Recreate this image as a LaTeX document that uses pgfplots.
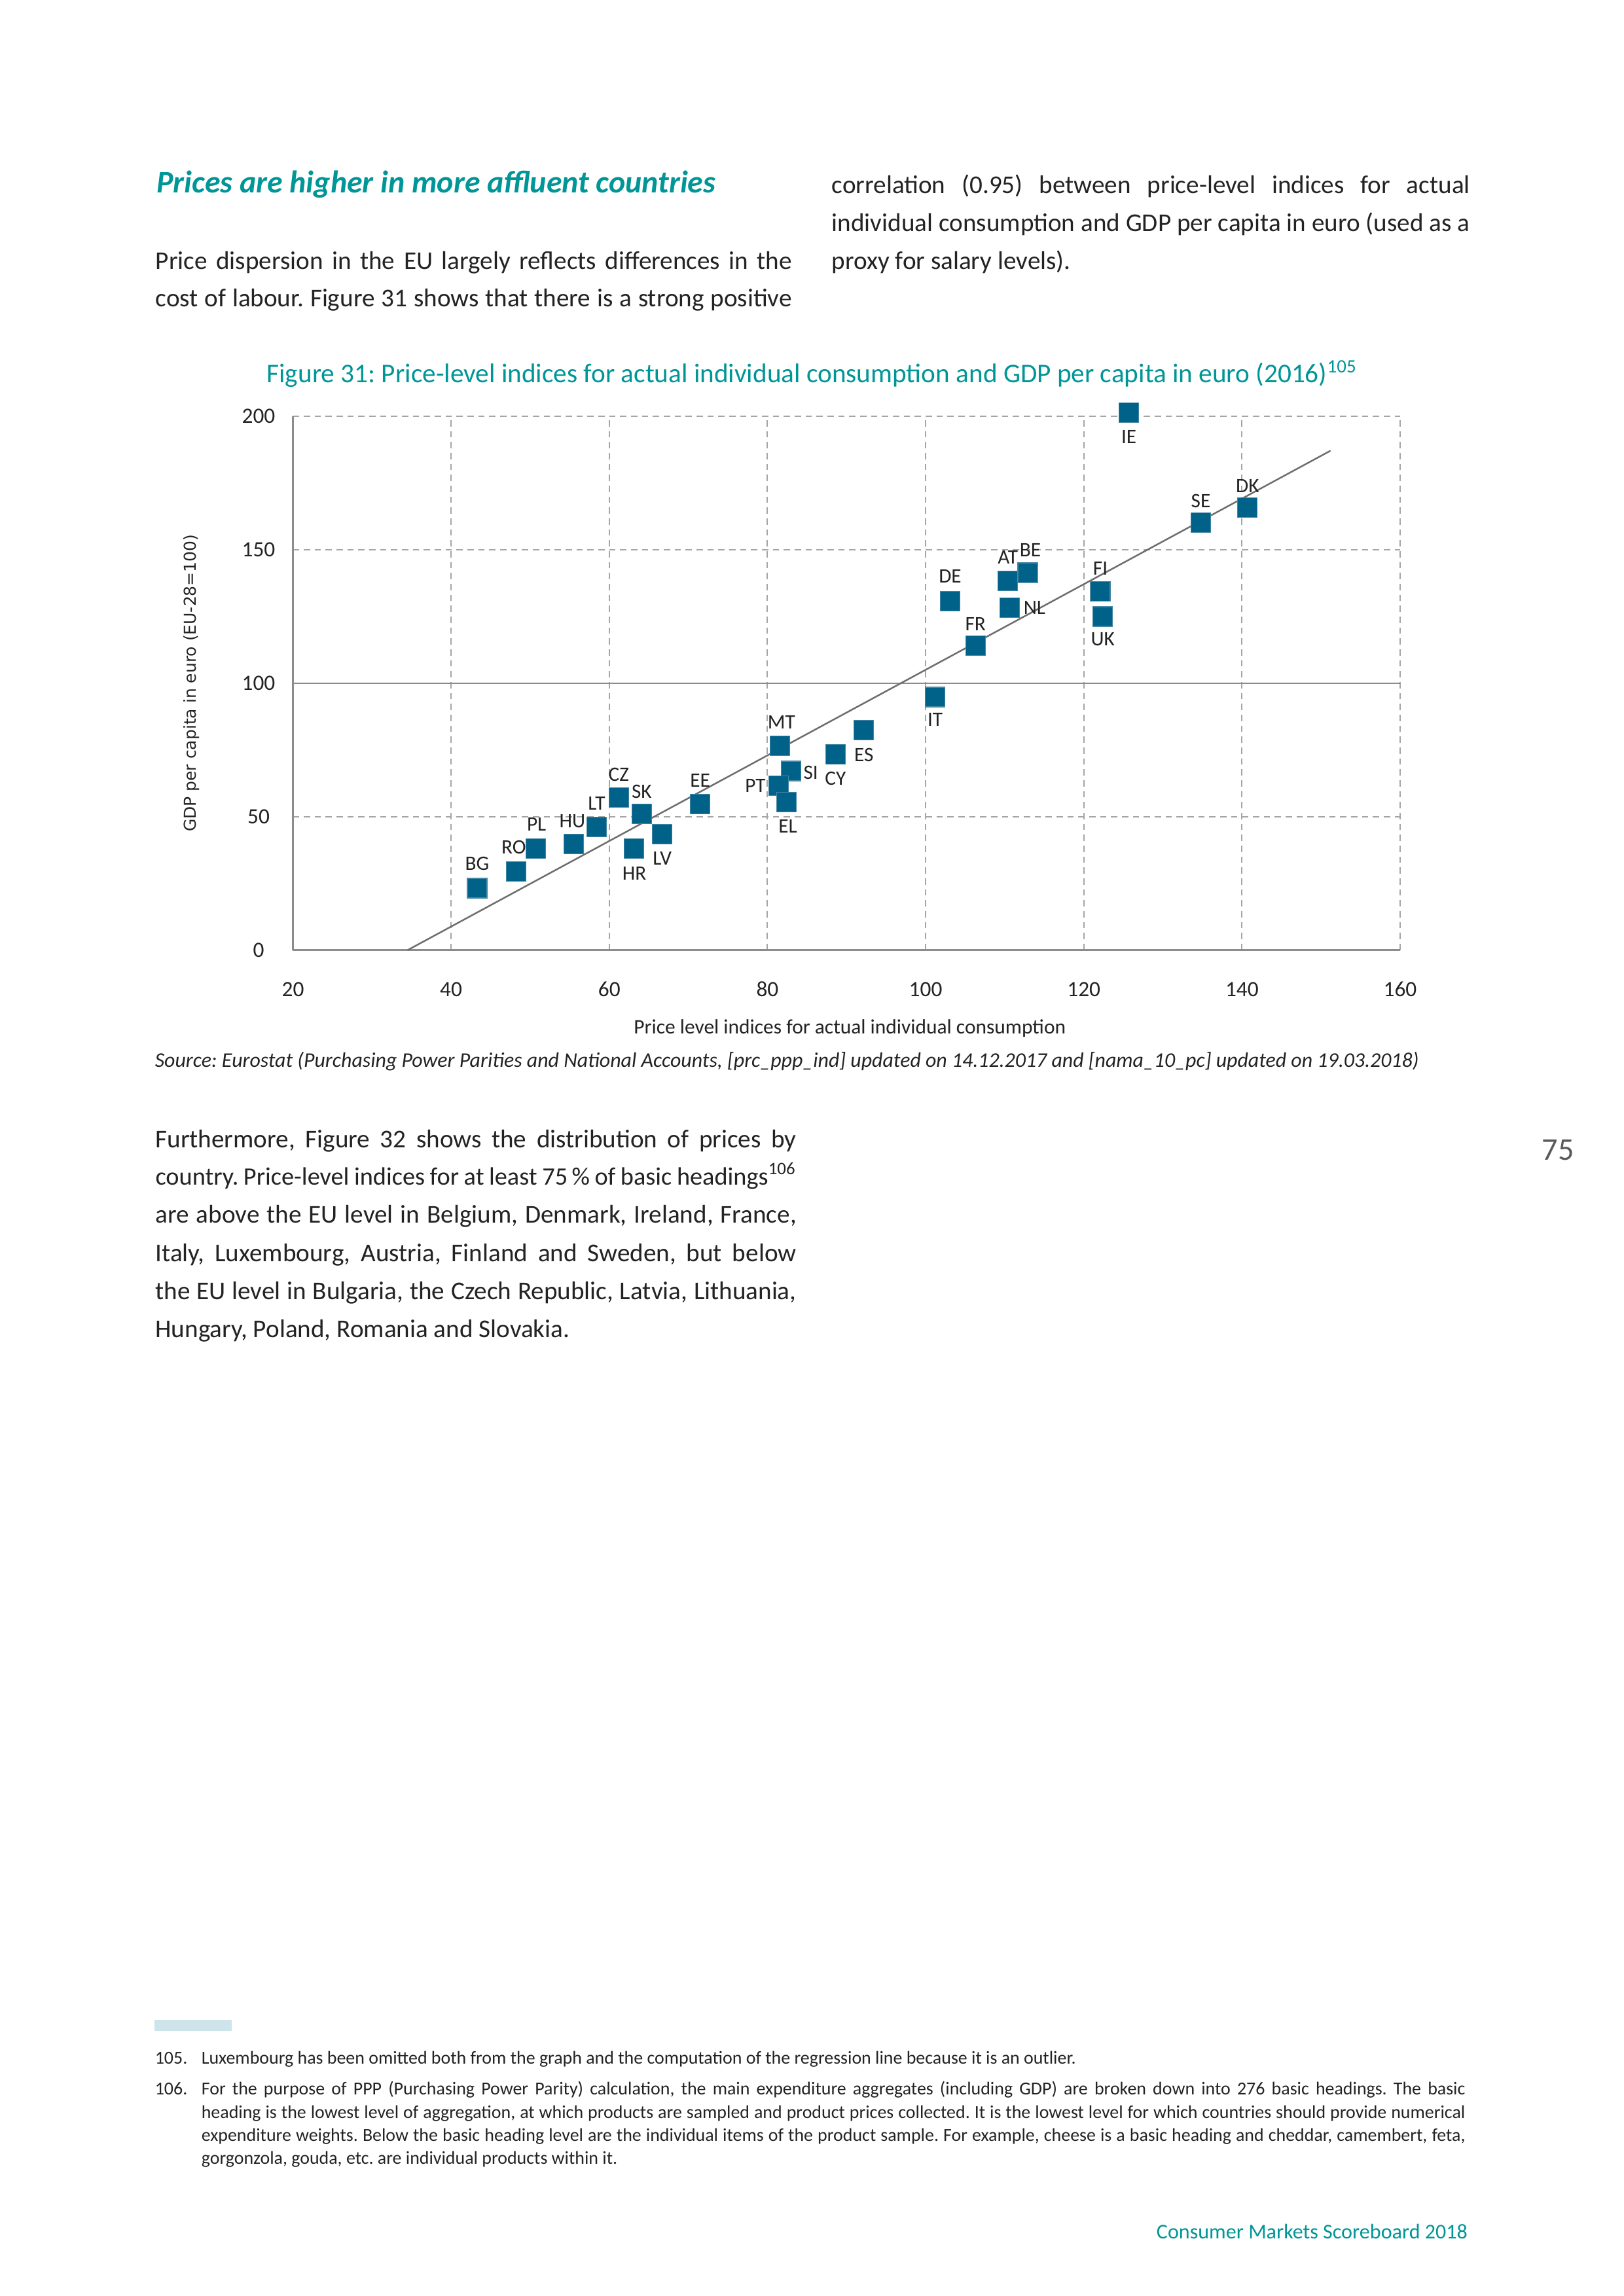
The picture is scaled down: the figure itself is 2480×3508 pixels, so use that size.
\documentclass[border=0pt]{standalone}
\usepackage{pgfplots}
\pgfplotsset{compat=1.18}
\usepackage{pgfplotstable}
\usepackage{fontspec}
\setmainfont{Carlito}
\newfontfamily\dejavu{DejaVu Sans}
\frenchspacing

\definecolor{ecteal}{RGB}{0,150,152}
\definecolor{markc}{RGB}{0,97,137}
\definecolor{markedge}{RGB}{70,135,165}
\definecolor{gridc}{RGB}{165,165,165}
\definecolor{axisc}{RGB}{140,140,140}
\definecolor{body}{RGB}{35,35,35}
\definecolor{fnblue}{RGB}{205,228,234}

% x = price level index, y = GDP per capita (EU-28=100), label offsets in pt
\pgfplotstableread{
x     y     lab dx   dy
125.7 201.3 IE  0    -8.9
134.8 160.2 SE  0    7.9
140.7 165.8 DK  0    7.9
103.1 130.8 DE  0    9.1
110.4 138.4 AT  0    8.6
112.9 141.4 BE  1.0  8.4
110.6 128.3 NL  9.2  0
106.3 114.0 FR  0    7.9
122.1 134.5 FI  0    8.4
122.4 125.0 UK  0    -8.4
101.2 94.8  IT  0    -8.2
92.2  82.4  ES  0    -9.0
88.6  73.3  CY  0    -8.9
81.6  76.6  MT  0.5  8.6
83.0  67.1  SI  7.2  -0.5
81.4  61.6  PT  -8.5 0
82.4  55.4  EL  0.5  -8.9
71.5  54.8  EE  0    8.6
61.2  57.2  CZ  0    8.4
64.1  51.0  SK  0    8.3
66.7  43.4  LV  0    -8.9
58.4  46.2  LT  0    8.5
63.1  38.0  HR  0.2  -9.1
55.5  39.7  HU  -0.5 8.4
50.7  38.0  PL  0.3  8.9
48.2  29.4  RO  -0.8 8.9
43.3  23.2  BG  0    9.0
}\eudata

\newcommand{\jline}[2]{\makebox[#1][s]{#2}}
\newcommand{\bodyfont}{\fontsize{9.4}{11}\selectfont}
\newcommand{\fnfont}{\fontsize{6.7}{8}\selectfont}

\begin{document}
\begin{tikzpicture}
\begin{scope}[x=0.24pt,y=-0.24pt]
\fill[white] (0,0) rectangle (2480,3508);
\tikzset{txt/.style={anchor=base west, inner sep=0pt, text=body}}

% heading and two columns
\node[txt, font=\bfseries\itshape\fontsize{11.5}{13}\selectfont, text=ecteal] at (238.6,295) {Prices are higher in more affluent countries};
\node[txt, font=\bodyfont] at (237,411.7) {\jline{233.3pt}{Price dispersion in the EU largely reflects differences in the}};
\node[txt, font=\bodyfont] at (237,468.3) {\jline{233.3pt}{cost of labour. Figure 31 shows that there is a strong positive}};
\node[txt, font=\bodyfont] at (1270,295.7) {\jline{234pt}{correlation (0.95) between price-level indices for actual}};
\node[txt, font=\bodyfont] at (1270,353.3) {\jline{234pt}{individual consumption and GDP per capita in euro (used as a}};
\node[txt, font=\bodyfont] at (1270,411.7) {proxy for salary levels).};

% figure title and source
\node[txt, font=\fontsize{9.9}{11}\selectfont, text=ecteal] at (406.7,585) {Figure 31: Price-level indices for actual individual consumption and GDP per capita in euro (2016)\textsuperscript{105}};
\node[txt, font=\itshape\fontsize{7.65}{9}\selectfont] at (236,1630) {Source: Eurostat (Purchasing Power Parities and National Accounts, [prc\_ppp\_ind] updated on 14.12.2017 and [nama\_10\_pc] updated on 19.03.2018)};

% second paragraph
\node[txt, font=\bodyfont] at (236.7,1753.3) {\jline{235pt}{Furthermore, Figure 32 shows the distribution of prices by}};
\node[txt, font=\fontsize{9.2}{11}\selectfont] at (236.7,1810) {\jline{235pt}{country. Price-level indices for at least 75\,\% of basic headings\textsuperscript{106}}};
\node[txt, font=\bodyfont] at (236.7,1868) {\jline{235pt}{are above the EU level in Belgium, Denmark, Ireland, France,}};
\node[txt, font=\bodyfont] at (236.7,1927) {\jline{235pt}{Italy, Luxembourg, Austria, Finland and Sweden, but below}};
\node[txt, font=\bodyfont] at (236.7,1985) {\jline{235pt}{the EU level in Bulgaria, the Czech Republic, Latvia, Lithuania,}};
\node[txt, font=\bodyfont] at (236.7,2043) {Hungary, Poland, Romania and Slovakia.};

\node[txt, font=\fontsize{11.6}{13}\selectfont, text={rgb,255:red,90;green,90;blue,90}] at (2355,1772) {75};

% footnotes
\fill[fnblue] (236,3086) rectangle (354,3102.7);
\node[txt, font=\fnfont] at (236,3153) {105.};
\node[txt, font=\fnfont] at (307,3153) {Luxembourg has been omitted both from the graph and the computation of the regression line because it is an outlier.};
\node[txt, font=\fnfont] at (236,3200) {106.};
\node[txt, font=\fnfont] at (307,3200) {\jline{463.4pt}{For the purpose of PPP (Purchasing Power Parity) calculation, the main expenditure aggregates (including GDP) are broken down into 276 basic headings. The basic}};
\node[txt, font=\fnfont] at (307,3236.7) {\jline{463.4pt}{heading is the lowest level of aggregation, at which products are sampled and product prices collected. It is the lowest level for which countries should provide numerical}};
\node[txt, font=\fnfont] at (307,3271.7) {\jline{463.4pt}{expenditure weights. Below the basic heading level are the individual items of the product sample. For example, cheese is a basic heading and cheddar, camembert, feta,}};
\node[txt, font=\fnfont] at (307,3306.7) {gorgonzola, gouda, etc. are individual products within it.};

\node[anchor=base east, inner sep=0pt, font=\fontsize{7.7}{9}\selectfont, text=ecteal] at (2242.7,3420.7) {Consumer Markets Scoreboard 2018};
\end{scope}

\begin{axis}[
  at={(107.4pt,-348.41pt)}, anchor=south west,
  scale only axis, width=405.96pt, height=195.77pt,
  xmin=20, xmax=160, ymin=0, ymax=200,
  xtick={20,40,...,160}, ytick={0,50,150,200},
  extra y ticks={100},
  extra y tick style={major grid style={solid, draw=axisc, line width=0.6pt}},
  axis x line*=bottom, axis y line*=left,
  axis line style={draw=axisc, line width=0.6pt},
  grid=major,
  grid style={draw=gridc, line width=0.45pt, dash pattern=on 2.3pt off 1.7pt},
  major tick length=0pt,
  /pgf/number format/assume math mode=true,
  tick label style={font=\fontsize{8}{9}\selectfont, text=body},
  xticklabel style={anchor=center, yshift=-14.4pt},
  yticklabel style={anchor=center, xshift=-12.6pt},
  xlabel={Price level indices for actual individual consumption},
  ylabel={GDP per capita in euro (EU-28=100)},
  xlabel style={at={(axis description cs:0.503,-0.147)}, anchor=center, font=\fontsize{7.55}{8}\selectfont, text=body},
  ylabel style={at={(axis description cs:-0.0913,0.5)}, anchor=center, font=\dejavu\fontsize{6}{7}\selectfont, text=body},
  clip=false,
]
\addplot[draw={rgb,255:red,110;green,110;blue,110}, line width=0.6pt, mark=none] coordinates {(34.5,0) (151.2,187.1)};
\addplot[only marks, mark=square*, mark size=3.6pt,
  mark options={fill=markc, draw=markedge, line width=0.3pt},
  nodes near coords, point meta=explicit symbolic,
  visualization depends on={\thisrow{dx} \as \ldx},
  visualization depends on={\thisrow{dy} \as \ldy},
  every node near coord/.append style={anchor=center, xshift=\ldx pt, yshift=\ldy pt,
    inner sep=0pt, font=\fontsize{7.5}{8}\selectfont, text=body}]
  table[x=x, y=y, meta=lab] {\eudata};
\end{axis}
\end{tikzpicture}
\end{document}
